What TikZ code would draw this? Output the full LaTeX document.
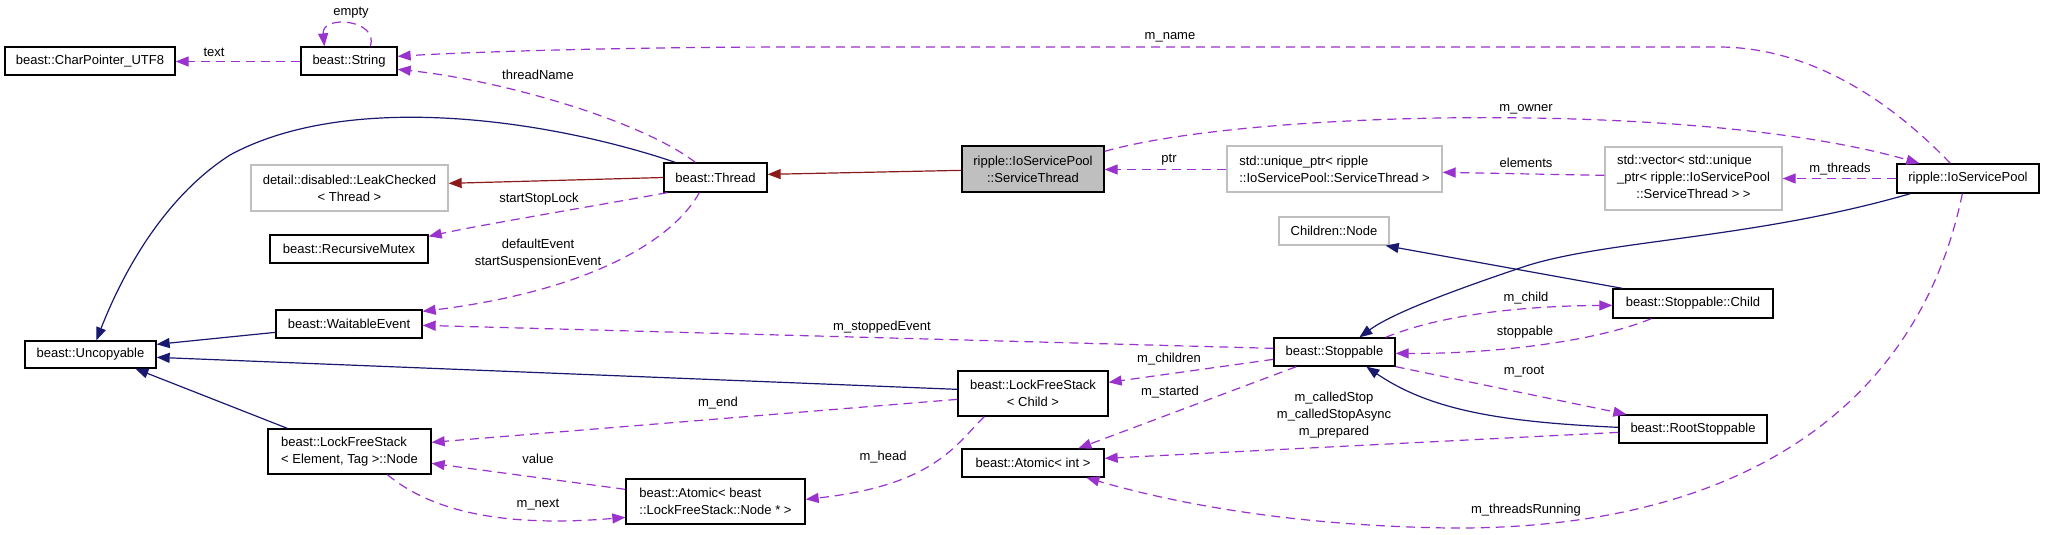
\documentclass[tikz,border=0pt]{standalone}
\usepackage{fontspec}
\setmainfont{Liberation Sans}
\usetikzlibrary{arrows.meta,calc}
\definecolor{edgepurple}{HTML}{9A32CD}
\definecolor{edgeblue}{HTML}{191970}
\definecolor{edgered}{HTML}{8B1A1A}
\definecolor{boxgray}{HTML}{BFBFBF}
\newcommand{\dfont}{\fontsize{13}{17}\selectfont}
\begin{document}
\begin{tikzpicture}[x=1pt,y=-1pt,
  box/.style={draw=black, line width=1.3pt, fill=white, inner sep=0pt, font=\dfont},
  gbox/.style={box, draw=boxgray},
  lbl/.style={inner sep=0pt, font=\dfont, align=center},
  tipx/.style={-{Triangle[length=13pt,width=10pt]}},
  uses/.style={draw=edgepurple, line width=1.2pt, dash pattern=on 9pt off 6pt, tipx, edgepurple},
  inh/.style={draw=edgeblue, line width=1.2pt, tipx, edgeblue},
  inr/.style={draw=edgered, line width=1.2pt, tipx, edgered}]
\useasboundingbox (0,0) rectangle (2045,535);
\fill[white] (0,0) rectangle (2045,535);

% nodes
\node[box, minimum width=170pt, minimum height=28pt] (cp) at (90,61) {beast::CharPointer\_UTF8};
\node[box, minimum width=96pt, minimum height=28pt] (str) at (349,61) {beast::String};
\node[gbox, minimum width=197pt, minimum height=46pt, align=center] (leak) at (349.5,188) {detail::disabled::LeakChecked\\< Thread >};
\node[box, minimum width=103pt, minimum height=29pt] (thr) at (715.5,177.5) {beast::Thread};
\node[box, minimum width=158pt, minimum height=28pt] (rmx) at (349,249) {beast::RecursiveMutex};
\node[box, minimum width=146pt, minimum height=28pt] (wev) at (349,324) {beast::WaitableEvent};
\node[box, minimum width=131pt, minimum height=27pt] (unc) at (90.5,354.5) {beast::Uncopyable};
\node[box, minimum width=163pt, minimum height=45pt, align=left] (lfn) at (349.5,451.5) {beast::LockFreeStack\\< Element, Tag >::Node};
\node[box, minimum width=179pt, minimum height=45pt, align=left] (atb) at (715.5,501.5) {beast::Atomic< beast\\::LockFreeStack::Node * >};
\node[box, fill=boxgray, minimum width=142pt, minimum height=46pt, align=center] (svt) at (1033,169) {ripple::IoServicePool\\::ServiceThread};
\node[gbox, minimum width=215pt, minimum height=46pt, align=left] (uptr) at (1334.5,169) {std::unique\_ptr< ripple\\::IoServicePool::ServiceThread >};
\node[gbox, minimum width=177pt, minimum height=63pt] (vec) at (1693.5,178.5) {\begin{tabular}{@{}l@{}}std::vector< std::unique\\\_ptr< ripple::IoServicePool\\\multicolumn{1}{@{}c@{}}{::ServiceThread > >}\end{tabular}};
\node[box, minimum width=142pt, minimum height=29pt] (iop) at (1968,178.5) {ripple::IoServicePool};
\node[gbox, minimum width=110pt, minimum height=28pt] (chn) at (1334,231) {Children::Node};
\node[box, minimum width=160pt, minimum height=29pt] (sch) at (1693,303.5) {beast::Stoppable::Child};
\node[box, minimum width=121pt, minimum height=28pt] (stp) at (1334.5,352) {beast::Stoppable};
\node[box, minimum width=150pt, minimum height=45pt, align=center] (lfc) at (1033,393.5) {beast::LockFreeStack\\< Child >};
\node[box, minimum width=142pt, minimum height=28pt] (ati) at (1033,463) {beast::Atomic< int >};
\node[box, minimum width=148pt, minimum height=28pt] (rst) at (1693,429) {beast::RootStoppable};

% usage edges (purple dashed)
\draw[uses] ($(str.west)+(0,0.5)$) -- ($(cp.east)+(0,0.5)$);
\draw[uses] ($(str.north west)+(70,0)$) .. controls +(9,-27) and +(-3,-32) .. ($(str.north west)+(24,0)$);
\draw[uses] ($(iop.north west)+(54,0)$) .. controls (1880,90) and (1800,47) .. (1718,47) -- (800,47) .. controls (600,47) and (450,53) .. ($(str.north east)+(0,10)$);
\draw[uses] ($(thr.north west)+(32,0)$) .. controls (640,120) and (500,80) .. ($(str.north east)+(0,23)$);
\draw[uses] ($(thr.south west)+(4,0)$) .. controls (600,205) and (480,225) .. ($(rmx.north east)+(0,2)$);
\draw[uses] ($(thr.south west)+(36,0)$) .. controls (670,245) and (580,292) .. ($(wev.north east)+(0,2)$);
\draw[uses] ($(stp.north west)+(0,11)$) -- ($(wev.north east)+(0,16)$);
\draw[uses] ($(svt.north east)+(0,6)$) .. controls (1250,110) and (1700,100) .. ($(iop.north west)+(23,0)$);
\draw[uses] ($(uptr.west)+(0,0.5)$) -- ($(svt.east)+(0,0.5)$);
\draw[uses] ($(vec.north west)+(0,29)$) -- ($(uptr.north east)+(0,27)$);
\draw[uses] (iop.west) -- (vec.east);
\draw[uses] ($(stp.north west)+(0,22)$) -- ($(lfc.north east)+(0,12)$);
\draw[uses] ($(lfc.north west)+(0,29)$) -- ($(lfn.north east)+(0,14)$);
\draw[uses] ($(stp.south west)+(23,0)$) -- ($(ati.north west)+(117,0)$);
\draw[uses] ($(lfc.south west)+(27,0)$) .. controls (955,445) and (935,485) .. ($(atb.north east)+(0,21)$);
\draw[uses] ($(atb.north west)+(0,11)$) -- ($(lfn.north east)+(0,35)$);
\draw[uses] ($(lfn.south west)+(120,0)$) .. controls (430,510) and (500,528) .. ($(atb.north west)+(0,39)$);
\draw[uses] ($(stp.north east)+(-10,0)$) .. controls (1440,315) and (1520,306) .. ($(sch.north west)+(0,17)$);
\draw[uses] ($(sch.south west)+(39,0)$) .. controls (1600,340) and (1500,354) .. ($(stp.north east)+(0,16)$);
\draw[uses] (stp.south east) -- ($(rst.north west)+(8,0)$);
\draw[uses] ($(rst.north west)+(0,18)$) -- ($(ati.north east)+(0,10)$);
\draw[uses] ($(iop.south west)+(66,0)$) .. controls (1920,400) and (1750,530) .. (1450,528) .. controls (1300,526) and (1180,505) .. ($(ati.south west)+(125,0)$);

% inheritance edges (blue)
\draw[inh] ($(thr.north west)+(12,0)$) .. controls (550,120) and (350,90) .. (230,155) .. controls (160,200) and (120,280) .. ($(unc.north west)+(72,0)$);
\draw[inh] ($(wev.north west)+(0,23)$) -- ($(unc.north east)+(0,4)$);
\draw[inh] ($(lfc.north west)+(0,19)$) -- ($(unc.north east)+(0,17)$);
\draw[inh] ($(lfn.north west)+(20,0)$) -- ($(unc.south west)+(111,0)$);
\draw[inh] ($(iop.south west)+(14,0)$) .. controls (1750,240) and (1600,240) .. (1520,268) .. controls (1440,295) and (1390,315) .. ($(stp.north west)+(86,0)$);
\draw[inh] ($(sch.north west)+(10,0)$) -- ($(chn.south east)+(-4,0)$);
\draw[inh] ($(rst.north west)+(0,13)$) .. controls (1500,422) and (1430,410) .. ($(stp.south west)+(93,0)$);

% private inheritance (red)
\draw[inr] (thr.west) -- ($(leak.north east)+(0,19)$);
\draw[inr] ($(svt.north west)+(0,25)$) -- ($(thr.north east)+(0,12)$);

% labels
\node[lbl] (l1) at (351,13) {empty};
\node[lbl] (l2) at (214,52) {text};
\node[lbl] (l3) at (1170,37) {m\_name};
\node[lbl] (l4) at (538,75) {threadName};
\node[lbl] (l5) at (539,199) {startStopLock};
\node[lbl] (l6) at (538,254) {defaultEvent\\startSuspensionEvent};
\node[lbl] (l7) at (882,327) {m\_stoppedEvent};
\node[lbl] (l8) at (1526,109) {m\_owner};
\node[lbl] (l9) at (1169,160) {ptr};
\node[lbl] (l10) at (1526,163) {elements};
\node[lbl] (l11) at (1840,169) {m\_threads};
\node[lbl] (l12) at (1169,359) {m\_children};
\node[lbl] (l13) at (718,403) {m\_end};
\node[lbl] (l14) at (1170,392) {m\_started};
\node[lbl] (l15) at (883,457) {m\_head};
\node[lbl] (l16) at (538,459) {value};
\node[lbl] (l17) at (538,505) {m\_next};
\node[lbl] (l18) at (1526,298) {m\_child};
\node[lbl] (l19) at (1525,332) {stoppable};
\node[lbl] (l20) at (1524,372) {m\_root};
\node[lbl] (l21) at (1334,415) {m\_calledStop\\m\_calledStopAsync\\m\_prepared};
\node[lbl] (l22) at (1526,510) {m\_threadsRunning};
\end{tikzpicture}
\end{document}
